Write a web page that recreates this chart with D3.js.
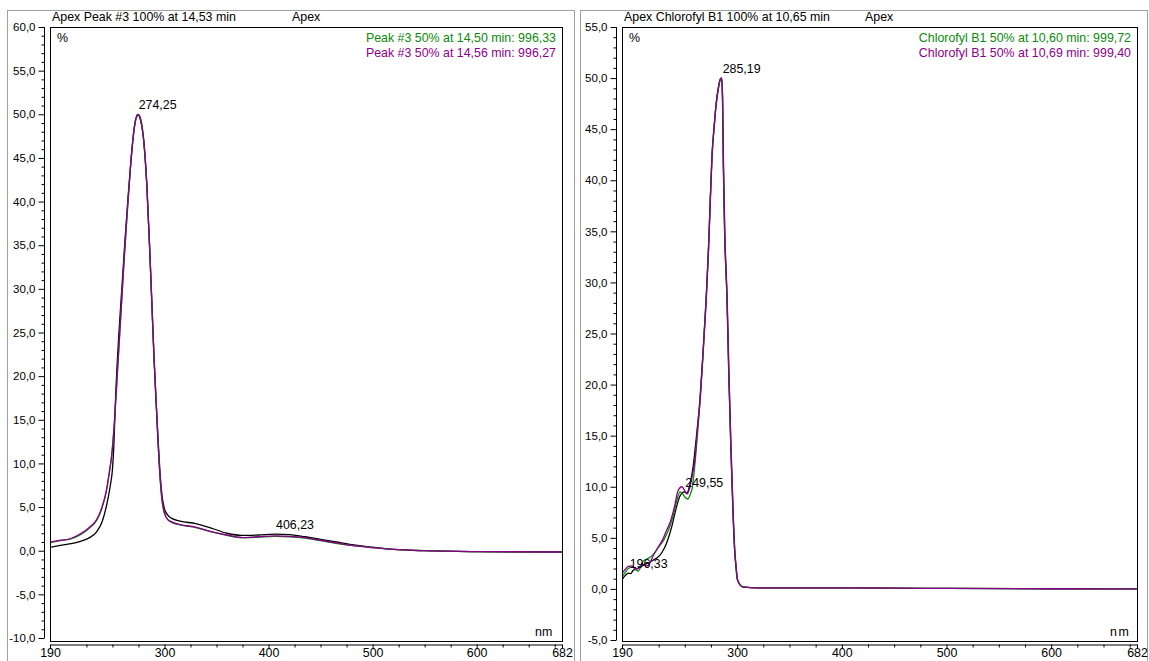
<!DOCTYPE html>
<html>
<head>
<meta charset="utf-8">
<script src="https://cdn.jsdelivr.net/npm/d3@7"></script>
<style>
  html, body { margin: 0; padding: 0; background: #fff; }
  svg { display: block; }
  text { font-family: Arial, "Liberation Sans", sans-serif; fill: #000; }
</style>
</head>
<body>
<svg id="chart" width="1149" height="661"></svg>
<script>
// spectra: [wavelength nm, %]
const leftBlack = [
  [190, 0.4], [200, 0.6], [210, 0.8], [220, 1.1], [228, 1.5], [235, 2.2], [240, 3.3],
  [244, 5.0], [248, 7.5], [250, 9.3], [251.5, 12.5], [253, 17.5], [256, 24.5],
  [259, 30], [262, 35.5], [265, 40.5], [268, 45], [271, 48.5], [274.25, 50],
  [277, 49.3], [280, 47], [283, 42], [286, 34], [288, 28], [290, 22], [292, 17],
  [294, 12.5], [296, 8.5], [298, 6], [300, 4.8], [303, 4.1], [307, 3.7], [315, 3.4],
  [330, 3.1], [345, 2.6], [360, 2.0], [375, 1.75], [390, 1.8], [406.23, 1.9],
  [420, 1.85], [435, 1.6], [450, 1.3], [465, 1.0], [480, 0.7], [500, 0.4],
  [520, 0.15], [550, 0.0], [600, -0.1], [682, -0.15]
];
const leftGreen = [
  [190, 0.95], [200, 1.15], [210, 1.35], [220, 1.9], [228, 2.6], [235, 3.5], [240, 4.9],
  [244, 6.7], [247, 8.9], [249.5, 11.1], [252, 14.8], [255, 20.8], [258, 26.8],
  [261, 32.8], [264, 38.3], [267, 43.3], [270, 47.4], [272.5, 49.4], [275, 49.9],
  [277.5, 49.2], [280.5, 46.4], [283, 42], [286, 34], [288, 28], [290, 22], [292, 17],
  [294, 12], [296, 8], [298, 5.5], [300, 4.3], [303, 3.6], [307, 3.25], [315, 2.95],
  [330, 2.65], [345, 2.15], [360, 1.75], [375, 1.5], [390, 1.55], [406, 1.65],
  [420, 1.6], [435, 1.45], [450, 1.15], [465, 0.85], [480, 0.6], [500, 0.35],
  [520, 0.15], [550, 0.0], [600, -0.1], [682, -0.15]
];
const leftPurple = [
  [190, 1.0], [200, 1.2], [210, 1.4], [220, 2.0], [228, 2.7], [235, 3.6], [240, 5.0],
  [244, 6.8], [247, 9.0], [249.5, 11.2], [252, 15], [255, 21], [258, 27],
  [261, 33], [264, 38.5], [267, 43.5], [270, 47.5], [272.5, 49.5], [275, 50],
  [277.5, 49.3], [280.5, 46.5], [283, 42], [286, 34], [288, 28], [290, 22], [292, 17],
  [294, 12], [296, 8], [298, 5.5], [300, 4.3], [303, 3.6], [307, 3.3], [315, 3.0],
  [330, 2.7], [345, 2.2], [360, 1.8], [375, 1.5], [390, 1.6], [406, 1.7],
  [420, 1.65], [435, 1.5], [450, 1.2], [465, 0.9], [480, 0.6], [500, 0.35],
  [520, 0.15], [550, 0.0], [600, -0.1], [682, -0.15]
];

const rightBlack = [
  [190, 0.9], [193, 1.3], [196.33, 1.55], [198.5, 1.5], [200.5, 1.8], [205, 2.0],
  [210, 2.3], [215, 2.55], [219.6, 2.8], [226.3, 3.3], [230, 3.9], [233, 4.6],
  [237.8, 6.2], [241, 7.6], [245.4, 9.1], [249.55, 9.5], [252, 9.4], [255, 10.3],
  [258, 12.0], [261, 14.8], [264.5, 18.6], [267.5, 23.3], [270.3, 28.3], [272.5, 33],
  [274.3, 38], [276, 42.5], [278, 45.2], [280, 47.5], [282, 49], [284, 49.9],
  [285.19, 50], [286, 48], [286.8, 41.4], [288, 35], [290.3, 28.3], [292, 21],
  [294, 13.7], [296, 7.5], [297.5, 3.9], [299, 2], [300, 1.0], [302, 0.5],
  [305, 0.2], [320, 0.1], [400, 0.1], [500, 0.05], [682, 0.0]
];
const rightGreen = [
  [190, 1.2], [193, 1.6], [196, 2.0], [200.5, 2.15], [203, 1.9], [205.3, 1.75],
  [208, 2.2], [210, 2.7], [213, 2.9], [216.8, 3.1], [220, 3.4], [225, 4.1],
  [230, 4.8], [236, 6.2], [240, 7.6], [243, 8.9], [245.4, 9.5], [248, 9.3],
  [250, 9.0], [253, 8.8], [255, 9.2], [256.9, 9.8], [259, 11.5], [261, 13.8],
  [264.5, 18.3], [267.5, 23.1], [270.3, 28.2], [272.5, 32.9], [274.3, 37.9],
  [276, 42.4], [278, 45.2], [280, 47.5], [282, 49], [284, 49.9], [285.2, 50],
  [286.1, 48], [286.9, 41.4], [288.1, 35], [290.4, 28.3], [292.1, 21], [294.1, 13.7],
  [296.1, 7.5], [297.6, 3.9], [299.1, 2], [300.1, 1.0], [302.1, 0.5], [305, 0.2],
  [320, 0.1], [400, 0.1], [500, 0.05], [682, 0.0]
];
const rightPurple = [
  [190, 1.5], [193, 1.9], [196, 2.2], [199.6, 2.25], [202, 2.0], [204.3, 1.95],
  [207, 2.2], [209.1, 2.45], [211.5, 2.35], [213.9, 2.25], [217, 2.6], [219.6, 3.2],
  [224, 4.0], [229.2, 4.9], [232, 5.6], [235.9, 6.5], [240, 8.0], [243.5, 9.6],
  [247.3, 10.0], [250, 9.6], [252.1, 9.3], [255, 10.0], [257.5, 11.3], [259.7, 12.7],
  [262, 15.5], [265, 19], [268, 24], [270.5, 28.3], [272.5, 32.8], [274.3, 37.8],
  [276, 42.3], [278, 45.2], [280, 47.5], [282, 49], [284, 49.9], [285.3, 50],
  [286.2, 47.5], [287, 41.4], [288.2, 35], [290.5, 28.3], [292.2, 21], [294.2, 13.7],
  [296.2, 7.5], [297.7, 3.9], [299.2, 2], [300.2, 1.0], [302.2, 0.5], [305, 0.2],
  [320, 0.1], [400, 0.1], [500, 0.05], [682, 0.0]
];

// axis ticks and labels
const xLabels = [190, 300, 400, 500, 600, 682];
const xMinor = d3.range(200, 682, 25);
const leftYDomain = [-10, 60];
const rightYDomain = [-5, 55];

const leftTitle = "Apex Peak #3 100% at 14,53 min";
const rightTitle = "Apex Chlorofyl B1 100% at 10,65 min";
const leftLegend = ["Peak #3 50% at 14,50 min: 996,33", "Peak #3 50% at 14,56 min: 996,27"];
const rightLegend = ["Chlorofyl B1 50% at 10,60 min: 999,72", "Chlorofyl B1 50% at 10,69 min: 999,40"];
const leftPeaks = [[274.25, 50, "274,25"], [406.23, 1.9, "406,23"]];
const rightPeaks = [[285.19, 50, "285,19"], [249.55, 9.5, "249,55"], [196.33, 1.55, "196,33"]];

const GREEN = "#0a8a0a", PURPLE = "#8b008b";
const FS = 12.4;
const comma = v => d3.format(".1f")(v).replace(".", ",").replace("−", "-");

const svg = d3.select("#chart");

const panels = [
  { frame: 7, x0: 50, x1: 562, yAxisX: 44, yDomain: leftYDomain, yTop: 27, yBot: 638,
    title: leftTitle, apexX: 292, legend: leftLegend, peaks: leftPeaks,
    series: [[leftBlack, "#000"], [leftGreen, GREEN], [leftPurple, PURPLE]] },
  { frame: 580, x0: 622, x1: 1137, yAxisX: 616, yDomain: rightYDomain, yTop: 27, yBot: 640,
    title: rightTitle, apexX: 865, legend: rightLegend, peaks: rightPeaks,
    series: [[rightBlack, "#000"], [rightGreen, GREEN], [rightPurple, PURPLE]] }
];

panels.forEach((p, i) => {
  const g = svg.append("g");
  const boxTop = 27, boxBot = 641, axisY = 644;

  // outer grey frame
  g.append("rect")
    .attr("x", p.frame + 0.5).attr("y", 10.5)
    .attr("width", 567).attr("height", 680)
    .attr("fill", "none").attr("stroke", "#a0a0a0");

  const x = d3.scaleLinear().domain([190, 682]).range([p.x0, p.x1]);
  const y = d3.scaleLinear().domain(p.yDomain).range([p.yBot, p.yTop]);

  // header
  g.append("text").attr("x", p.x0 + 2).attr("y", 21).attr("font-size", FS).text(p.title);
  g.append("text").attr("x", p.apexX).attr("y", 21).attr("font-size", FS).text("Apex");

  // y axis: minor every 1, major every 5
  const yMinor = d3.range(p.yDomain[0], p.yDomain[1] + 0.5, 1).filter(v => v % 5 !== 0);
  const yMajor = d3.range(p.yDomain[0], p.yDomain[1] + 0.5, 5);
  g.append("g")
    .attr("transform", `translate(${p.yAxisX + 0.5},0)`)
    .call(d3.axisLeft(y).tickValues(yMinor).tickSize(3).tickFormat(""))
    .call(a => a.select(".domain").remove());
  const ya = g.append("g")
    .attr("transform", `translate(${p.yAxisX + 0.5},0)`)
    .call(d3.axisLeft(y).tickValues(yMajor).tickSize(6).tickSizeOuter(0).tickPadding(3).tickFormat(comma));
  ya.selectAll("text").attr("font-size", 11.5).attr("font-family", "Arial, 'Liberation Sans', sans-serif");
  ya.select(".domain").attr("d", `M0,${p.yTop}V${p.yBot}`);

  // x axis
  g.append("g")
    .attr("transform", `translate(0,${axisY + 0.5})`)
    .call(d3.axisBottom(x).tickValues(xMinor.filter(v => v % 100 !== 0)).tickSize(3).tickFormat(""))
    .call(a => a.select(".domain").remove());
  const xa = g.append("g")
    .attr("transform", `translate(0,${axisY + 0.5})`)
    .call(d3.axisBottom(x).tickValues(xLabels).tickSize(4).tickSizeOuter(0).tickPadding(0).tickFormat(d3.format("d")));
  xa.selectAll("text").attr("font-size", FS).attr("dy", "0.65em")
    .attr("font-family", "Arial, 'Liberation Sans', sans-serif");

  // plot box
  g.append("rect")
    .attr("x", p.x0 + 0.5).attr("y", boxTop + 0.5)
    .attr("width", p.x1 - p.x0).attr("height", boxBot - boxTop)
    .attr("fill", "none").attr("stroke", "#000");

  g.append("clipPath").attr("id", "clip" + i)
    .append("rect").attr("x", p.x0 + 1).attr("y", boxTop + 1)
    .attr("width", p.x1 - p.x0 - 1).attr("height", boxBot - boxTop - 1);

  const line = d3.line().x(d => x(d[0])).y(d => y(d[1])).curve(d3.curveMonotoneX);
  const curves = g.append("g").attr("clip-path", `url(#clip${i})`);
  p.series.forEach(([data, color]) => {
    curves.append("path").datum(data)
      .attr("d", line)
      .attr("fill", "none").attr("stroke", color).attr("stroke-width", 1.3);
  });

  // labels inside
  g.append("text").attr("x", p.x0 + 7).attr("y", 42).attr("font-size", FS).text("%");
  g.append("text").attr("x", p.x1 - 27).attr("y", 636).attr("font-size", FS)
    .attr("letter-spacing", i ? 1.5 : 0).text("nm");
  p.legend.forEach((t, k) => {
    g.append("text").attr("x", p.x1 - 6).attr("y", 42 + k * 15)
      .attr("text-anchor", "end").attr("font-size", FS)
      .style("fill", k ? PURPLE : GREEN).text(t);
  });
  p.peaks.forEach(([nm, v, t]) => {
    g.append("text").attr("x", x(nm) + 1).attr("y", y(v) - 5)
      .attr("font-size", FS).text(t);
  });
});
</script>
</body>
</html>
